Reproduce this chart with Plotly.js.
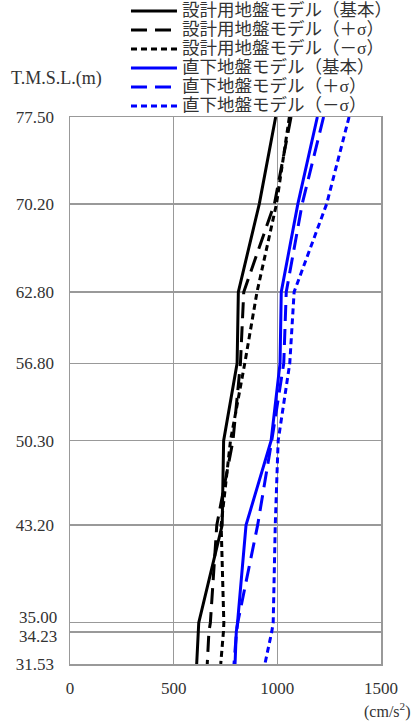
<!DOCTYPE html>
<html>
<head>
<meta charset="utf-8">
<script src="https://cdn.plot.ly/plotly-3.0.1.min.js"></script>
<style>html,body{margin:0;padding:0;background:#fff;}#chart{width:413px;height:725px;}</style>
</head>
<body>
<div id="chart"></div>
<script>
// Elevations (T.M.S.L., m)
const levels = [77.50, 70.20, 62.80, 56.80, 50.30, 43.20, 35.00, 34.23, 31.53];
const levelLabels = ["77.50", "70.20", "62.80", "56.80", "50.30", "43.20", "35.00", "34.23", "31.53"];

// Max acceleration (cm/s^2)
const designBase  = [992, 913, 812, 806, 741, 734, 621, 619, 611];
const designPlus  = [1066, 986, 838, 822, 786, 708, 677, 670, 662];
const designMinus = [1058, 996, 902, 843, 774, 729, 742, 740, 727];
const directBase  = [1193, 1099, 1019, 1013, 970, 849, 808, 802, 796];
const directPlus  = [1223, 1120, 1043, 1031, 973, 905, 809, 803, 791];
const directMinus = [1346, 1238, 1081, 1060, 1004, 990, 980, 973, 940];

const seriesNames = [
  "設計用地盤モデル（基本）",
  "設計用地盤モデル（＋σ）",
  "設計用地盤モデル（－σ）",
  "直下地盤モデル（基本）",
  "直下地盤モデル（＋σ）",
  "直下地盤モデル（－σ）"
];
const xTicks = [0, 500, 1000, 1500];

const seriesData = [designBase, designPlus, designMinus, directBase, directPlus, directMinus];
const colors = ["#000000", "#000000", "#000000", "#0000ff", "#0000ff", "#0000ff"];
const dashes = ["solid", "16px,8px", "6px,4px", "solid", "16px,8px", "6px,4px"];

const traces = seriesData.map((vals, i) => ({
  type: "scatter",
  mode: "lines",
  x: vals,
  y: levels,
  name: '<span style="font-size:17.5px">' + seriesNames[i] + '</span>',
  line: {color: colors[i], width: 3, dash: dashes[i]},
  hoverinfo: "skip"
}));

const fontFam = "'Liberation Serif', 'Noto Sans CJK JP', serif";
const txtColor = "#333333";
const gridCol = "#999999";
const tickFont = {family: fontFam, size: 17, color: txtColor};

// the two closely spaced levels get their labels nudged apart (as in the reference)
const nudged = {"35.00": 5, "34.23": -5};
const mainVals = levels.filter((v, i) => !(levelLabels[i] in nudged));
const mainText = levelLabels.filter(t => !(t in nudged));
const nudgedVals = levels.filter((v, i) => levelLabels[i] in nudged);
const nudgedAnnotations = levels
  .map((v, i) => ({v: v, t: levelLabels[i]}))
  .filter(o => o.t in nudged)
  .map(o => ({
    text: o.t, xref: "paper", yref: "y", x: 0, y: o.v,
    xanchor: "right", yanchor: "middle", xshift: -11, yshift: nudged[o.t],
    showarrow: false, font: tickFont
  }));

const layout = {
  width: 413,
  height: 725,
  margin: {l: 70, r: 32, t: 117, b: 61, pad: 0, autoexpand: false},
  paper_bgcolor: "#ffffff",
  plot_bgcolor: "#ffffff",
  font: {family: fontFam, size: 15, color: txtColor},
  showlegend: true,
  legend: {
    x: 0.18, y: 1.2205, xanchor: "left", yanchor: "top",
    bgcolor: "rgba(0,0,0,0)",
    font: {family: fontFam, size: 12, color: txtColor},
    itemwidth: 46,
    tracegroupgap: 0
  },
  xaxis: {
    range: [0, 1500],
    tickvals: xTicks,
    ticktext: xTicks.map(String),
    showgrid: true, gridcolor: gridCol, gridwidth: 1.5,
    showline: true, linecolor: gridCol, linewidth: 1.5, mirror: true,
    zeroline: false, ticks: "", ticklen: 0,
    ticklabelstandoff: 8,
    tickfont: tickFont
  },
  yaxis: {
    range: [31.53, 77.50],
    tickvals: mainVals,
    ticktext: mainText,
    showgrid: true, gridcolor: gridCol, gridwidth: 1.5,
    minor: {tickvals: nudgedVals, showgrid: true, gridcolor: gridCol, gridwidth: 1.5, ticks: ""},
    showline: true, linecolor: gridCol, linewidth: 1.5, mirror: true,
    zeroline: false, ticks: "", ticklen: 0,
    ticklabelstandoff: 11,
    tickfont: tickFont
  },
  annotations: [
    {text: "T.M.S.L.(m)", xref: "paper", yref: "paper", x: -0.196, y: 1.07,
     xanchor: "left", yanchor: "middle", showarrow: false,
     font: {family: fontFam, size: 18, color: txtColor}},
    {text: "(cm/s<sup>2</sup>)", xref: "paper", yref: "paper", x: 1.101, y: -0.085,
     xanchor: "right", yanchor: "middle", showarrow: false,
     font: {family: fontFam, size: 16, color: txtColor}}
  ].concat(nudgedAnnotations)
};

Plotly.newPlot("chart", traces, layout, {displayModeBar: false, staticPlot: true});
</script>
</body>
</html>
